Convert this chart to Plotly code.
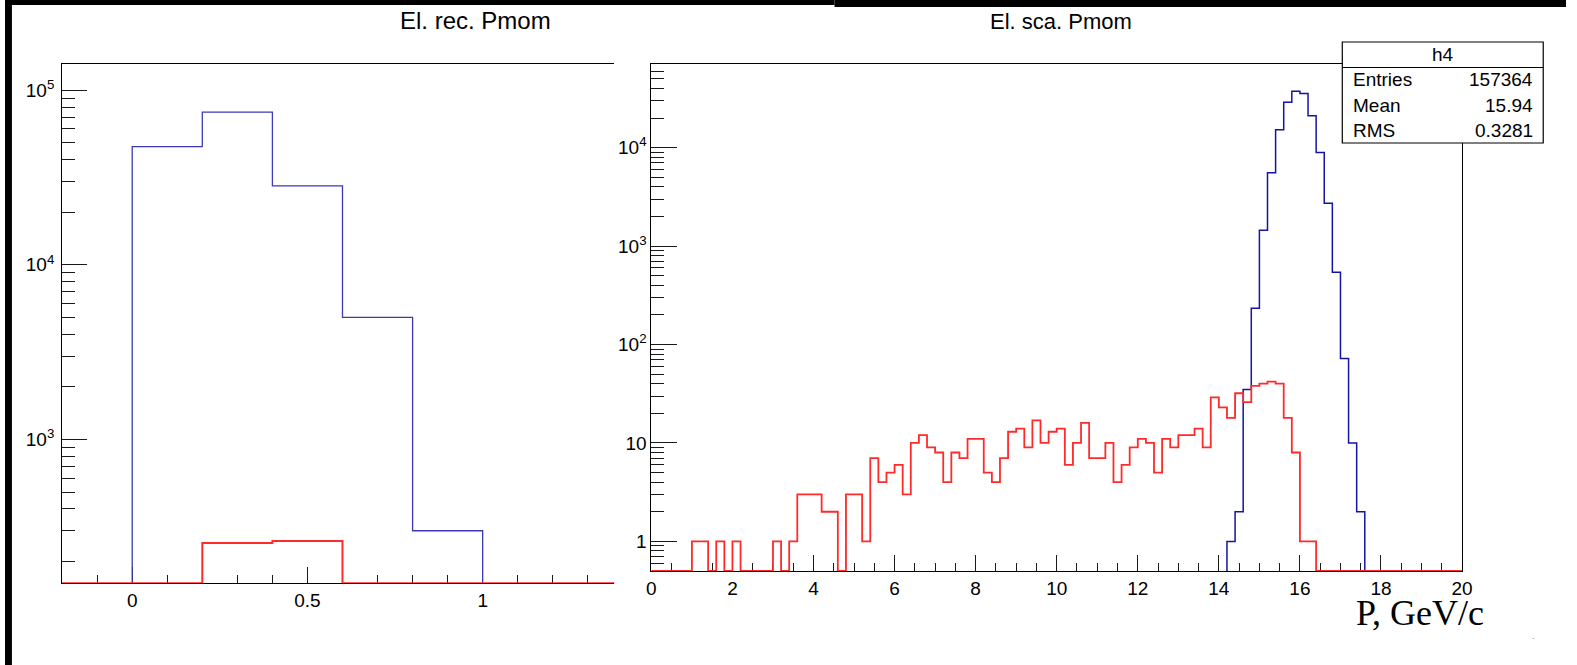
import math
import plotly.graph_objects as go

W, H = 1577, 665

# ---- left pad: "El. rec. Pmom" (0.2 GeV/c bins) ----
rec_edges = [-0.2, 0.0, 0.2, 0.4, 0.6, 0.8, 1.0, 1.2, 1.4]
rec_blue = [0, 47500, 75000, 28300, 5000, 300, 0, 0]
rec_red = [0, 0, 255, 262, 0, 0, 0, 0]
rec_xticks = [0, 0.5, 1]
rec_xtext = ["0", "0.5", "1"]
rec_yticks = [1e3, 1e4, 1e5]
rec_ytext = ["10<sup>3</sup>", "10<sup>4</sup>", "10<sup>5</sup>"]

# ---- right pad: "El. sca. Pmom", 100 bins on [0, 20] ----
sca_lo, sca_hi, sca_nbins = 0.0, 20.0, 100
sca_blue = [
    0, 0, 0, 0, 0, 0, 0, 0, 0, 0,
    0, 0, 0, 0, 0, 0, 0, 0, 0, 0,
    0, 0, 0, 0, 0, 0, 0, 0, 0, 0,
    0, 0, 0, 0, 0, 0, 0, 0, 0, 0,
    0, 0, 0, 0, 0, 0, 0, 0, 0, 0,
    0, 0, 0, 0, 0, 0, 0, 0, 0, 0,
    0, 0, 0, 0, 0, 0, 0, 0, 0, 0,
    0, 1, 2, 35, 234, 1450, 5560, 15200, 29000, 37500,
    35500, 21100, 8930, 2730, 543, 72, 10, 2, 0, 0,
    0, 0, 0, 0, 0, 0, 0, 0, 0, 0,
]
sca_red = [
    0, 0, 0, 0, 0, 1, 1, 0, 1, 0,
    1, 0, 0, 0, 0, 1, 0, 1, 3, 3,
    3, 2, 2, 0, 3, 3, 1, 7, 4, 5,
    6, 3, 10, 12, 9, 8, 4, 8, 7, 11,
    11, 5, 4, 7, 13, 14, 9, 17, 10, 13,
    14, 6, 10, 16, 7, 7, 10, 4, 6, 9,
    11, 10, 5, 11, 9, 12, 12, 14, 9, 29,
    23, 18, 32, 26, 38, 40, 42, 40, 18, 8,
    1, 1, 0, 0, 0, 0, 0, 0, 0, 0,
    0, 0, 0, 0, 0, 0, 0, 0, 0, 0,
]
sca_xticks = [0, 2, 4, 6, 8, 10, 12, 14, 16, 18, 20]
sca_yticks = [1, 10, 100, 1e3, 1e4]
sca_ytext = ["1", "10", "10<sup>2</sup>", "10<sup>3</sup>", "10<sup>4</sup>"]
sca_edges = [sca_lo + (sca_hi - sca_lo) * i / sca_nbins for i in range(sca_nbins + 1)]

# statistics box of h4
stat_title = "h4"
stat_names = ["Entries", "Mean", "RMS"]
stat_values = ["157364", "15.94", "0.3281"]

# log-axis floors (empty bins sit on the frame bottom)
rec_ymin, rec_ymax = 150.0, 10 ** 5.152
sca_ymin, sca_ymax = 0.5, 10 ** 4.851


def px_x(p):
    return p / W


def px_y(p):
    return 1 - p / H


def step_path(edges, counts, floor, only_filled):
    """Histogram outline as a step polyline."""
    xs, ys = [], []
    n = len(counts)
    if not only_filled:
        for i, c in enumerate(counts):
            y = c if c > 0 else floor
            xs += [edges[i], edges[i + 1]]
            ys += [y, y]
        return xs, ys
    i = 0
    while i < n:
        if counts[i] <= 0:
            i += 1
            continue
        j = i
        xs.append(edges[i]); ys.append(floor)
        while j < n and counts[j] > 0:
            xs += [edges[j], edges[j + 1]]
            ys += [counts[j], counts[j]]
            j += 1
        xs.append(edges[j]); ys.append(floor)
        xs.append(None); ys.append(None)
        i = j
    return xs, ys


def minor_decades(lo, hi):
    vals = []
    for d in range(int(math.floor(math.log10(lo))) - 1, int(math.ceil(math.log10(hi))) + 1):
        for k in range(2, 10):
            v = k * 10 ** d
            if lo <= v <= hi:
                vals.append(v)
    return vals


BLUE_L = "#3a3ab4"
BLUE_R = "#1414a0"
RED = "#ff2a2a"
TICK = "#1a1a1a"
FONT = "Liberation Sans, Arial, sans-serif"
TICKFONT = dict(family=FONT, size=19, color="black")

fig = go.Figure()

bx, by = step_path(rec_edges, rec_blue, rec_ymin, True)
fig.add_trace(go.Scatter(x=bx, y=by, mode="lines", line=dict(color=BLUE_L, width=1.3),
                         xaxis="x", yaxis="y", hoverinfo="skip"))
rx, ry = step_path(rec_edges, rec_red, rec_ymin, False)
fig.add_trace(go.Scatter(x=rx, y=ry, mode="lines", line=dict(color=RED, width=2),
                         xaxis="x", yaxis="y", hoverinfo="skip"))

bx, by = step_path(sca_edges, sca_blue, sca_ymin, True)
fig.add_trace(go.Scatter(x=bx, y=by, mode="lines", line=dict(color=BLUE_R, width=1.5),
                         xaxis="x2", yaxis="y2", hoverinfo="skip"))
rx, ry = step_path(sca_edges, sca_red, sca_ymin, False)
fig.add_trace(go.Scatter(x=rx, y=ry, mode="lines", line=dict(color=RED, width=1.8),
                         xaxis="x2", yaxis="y2", hoverinfo="skip"))

common_axis = dict(showgrid=False, zeroline=False, showline=True, linecolor="black",
                   linewidth=1, ticks="inside", tickcolor=TICK, tickwidth=1,
                   layer="below traces")

fig.update_layout(
    width=W, height=H, autosize=False,
    margin=dict(l=0, r=0, t=0, b=0, pad=0),
    paper_bgcolor="white", plot_bgcolor="white",
    showlegend=False,
    font=dict(family=FONT, size=19, color="black"),
    xaxis=dict(common_axis, domain=[px_x(57.7), px_x(615.7)], range=[-0.2, 1.376],
               mirror=True, tickmode="array", tickvals=rec_xticks, ticktext=rec_xtext,
               ticklen=16, anchor="y", tickfont=TICKFONT,
               minor=dict(ticks="inside", dtick=0.1, ticklen=8, tickcolor=TICK, tickwidth=1)),
    yaxis=dict(common_axis, domain=[px_y(583.3), px_y(63.7)], type="log",
               range=[math.log10(rec_ymin), math.log10(rec_ymax)],
               tickmode="array", tickvals=rec_yticks, ticktext=rec_ytext, ticklen=25,
               anchor="x", tickfont=TICKFONT, ticklabelstandoff=3,
               minor=dict(ticks="inside", tickmode="array",
                          tickvals=minor_decades(rec_ymin, rec_ymax),
                          ticklen=13, tickcolor=TICK, tickwidth=1)),
    xaxis2=dict(common_axis, domain=[px_x(653), px_x(1472)], range=[sca_lo, sca_hi],
                mirror=True, tickmode="array", tickvals=sca_xticks, ticklen=16,
                anchor="y2", tickfont=TICKFONT,
                minor=dict(ticks="inside", dtick=0.5, ticklen=8, tickcolor=TICK, tickwidth=1)),
    yaxis2=dict(common_axis, domain=[px_y(571), px_y(64)], type="log",
                range=[math.log10(sca_ymin), math.log10(sca_ymax)], mirror=True,
                tickmode="array", tickvals=sca_yticks, ticktext=sca_ytext, ticklen=26,
                anchor="x2", tickfont=TICKFONT,
                minor=dict(ticks="inside", tickmode="array",
                           tickvals=minor_decades(sca_ymin, sca_ymax),
                           ticklen=13, tickcolor=TICK, tickwidth=1)),
)

BOX_L, BOX_R, BOX_T, BOX_B = 1351, 1554, 42, 143
shapes = [
    # dark border strips along the top and left edge of the canvas
    dict(type="rect", xref="paper", yref="paper", x0=0, x1=px_x(838), y0=px_y(5), y1=1,
         fillcolor="black", line=dict(width=0), layer="above"),
    dict(type="rect", xref="paper", yref="paper", x0=px_x(838), x1=1, y0=px_y(7), y1=1,
         fillcolor="black", line=dict(width=0), layer="above"),
    dict(type="rect", xref="paper", yref="paper", x0=0, x1=px_x(7), y0=0, y1=1,
         fillcolor="black", line=dict(width=0), layer="above"),
    # statistics box
    dict(type="rect", xref="paper", yref="paper", x0=px_x(BOX_L), x1=px_x(BOX_R),
         y0=px_y(BOX_B), y1=px_y(BOX_T), fillcolor="white",
         line=dict(color="black", width=1.2), layer="above"),
    dict(type="line", xref="paper", yref="paper", x0=px_x(BOX_L), x1=px_x(BOX_R),
         y0=px_y(67.5), y1=px_y(67.5), line=dict(color="black", width=1.2), layer="above"),
]

row_h = (BOX_B - BOX_T) / (len(stat_names) + 1)
ann = [
    dict(text="El. rec. Pmom", x=px_x(475), y=px_y(20), xanchor="center", yanchor="middle",
         font=dict(family=FONT, size=24, color="black")),
    dict(text="El. sca. Pmom", x=px_x(1067), y=px_y(22), xanchor="center", yanchor="middle",
         font=dict(family=FONT, size=22, color="black")),
    dict(text="P, GeV/c", x=px_x(1496), y=px_y(613), xanchor="right", yanchor="middle",
         font=dict(family="Liberation Serif, Times New Roman, serif", size=36, color="black")),
    dict(text=stat_title, x=px_x((BOX_L + BOX_R) / 2), y=px_y(BOX_T + row_h / 2),
         xanchor="center", yanchor="middle", font=dict(family=FONT, size=19, color="black")),
    dict(text=".", x=px_x(1544), y=px_y(636), xanchor="center", yanchor="middle",
         font=dict(family=FONT, size=9, color="#888888")),
]
for k, (name, val) in enumerate(zip(stat_names, stat_values)):
    yy = BOX_T + row_h * (k + 1.5)
    ann.append(dict(text=name, x=px_x(BOX_L + 9), y=px_y(yy), xanchor="left", yanchor="middle",
                    font=dict(family=FONT, size=19, color="black")))
    ann.append(dict(text=val, x=px_x(BOX_R - 8), y=px_y(yy), xanchor="right", yanchor="middle",
                    font=dict(family=FONT, size=19, color="black")))
for a in ann:
    a.update(xref="paper", yref="paper", showarrow=False)

fig.update_layout(shapes=shapes, annotations=ann)
fig.write_html("out.html")
